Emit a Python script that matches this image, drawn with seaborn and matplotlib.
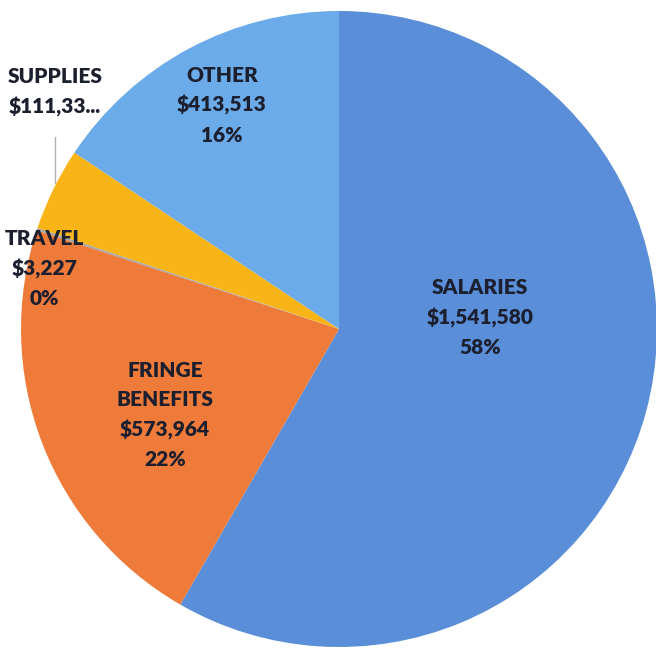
import matplotlib
matplotlib.use("Agg")
import matplotlib.pyplot as plt
import seaborn as sns

# budget categories (clockwise from 12 o'clock)
categories = ["SALARIES", "FRINGE\nBENEFITS", "TRAVEL", "SUPPLIES", "OTHER"]
amounts = [1541580, 573964, 3227, 111333, 413513]
amount_text = ["$1,541,580", "$573,964", "$3,227", "$111,33...", "$413,513"]
colors = ["#5A8ED8", "#EF7B3B", "#A5A5A5", "#F9B418", "#6BABEA"]

sns.set_theme(style="white")
plt.rcParams["font.family"] = ["Lato", "DejaVu Sans"]

W, H = 656, 650
cx, cy, r = 339, 329, 318  # pie centre / radius in pixels

fig = plt.figure(figsize=(W / 100, H / 100), dpi=100)
ax = fig.add_axes([(cx - r) / W, (H - cy - r) / H, 2 * r / W, 2 * r / H])

wedges, _ = ax.pie(
    amounts,
    colors=colors,
    startangle=90,
    counterclock=False,
    radius=1,
    wedgeprops=dict(linewidth=0),
)
ax.set_xlim(-1, 1)
ax.set_ylim(-1, 1)
ax.axis("off")

total = sum(amounts)
pcts = [round(a / total * 100) for a in amounts]

labels = []
for cat, amt, p in zip(categories, amount_text, pcts):
    if cat == "SUPPLIES":
        labels.append(f"{cat}\n{amt}")  # truncated in the original
    else:
        labels.append(f"{cat}\n{amt}\n{p}%")

# label centres (data coords)
label_pos = [(0.443, 0.035), (-0.547, -0.27), (-0.925, 0.19), (-0.893, 0.745), (-0.368, 0.704)]

for txt, (x, y) in zip(labels, label_pos):
    ax.text(x, y, txt, ha="center", va="center", fontsize=15, fontweight="heavy",
            color="#1c1f2e", linespacing=1.65, clip_on=False)

# leader line for supplies
ax.plot([-0.893, -0.893], [(cy - 137) / r, (cy - 183) / r], color="#b0b0b0", lw=1, clip_on=False)

fig.savefig("out.png", dpi=100)
